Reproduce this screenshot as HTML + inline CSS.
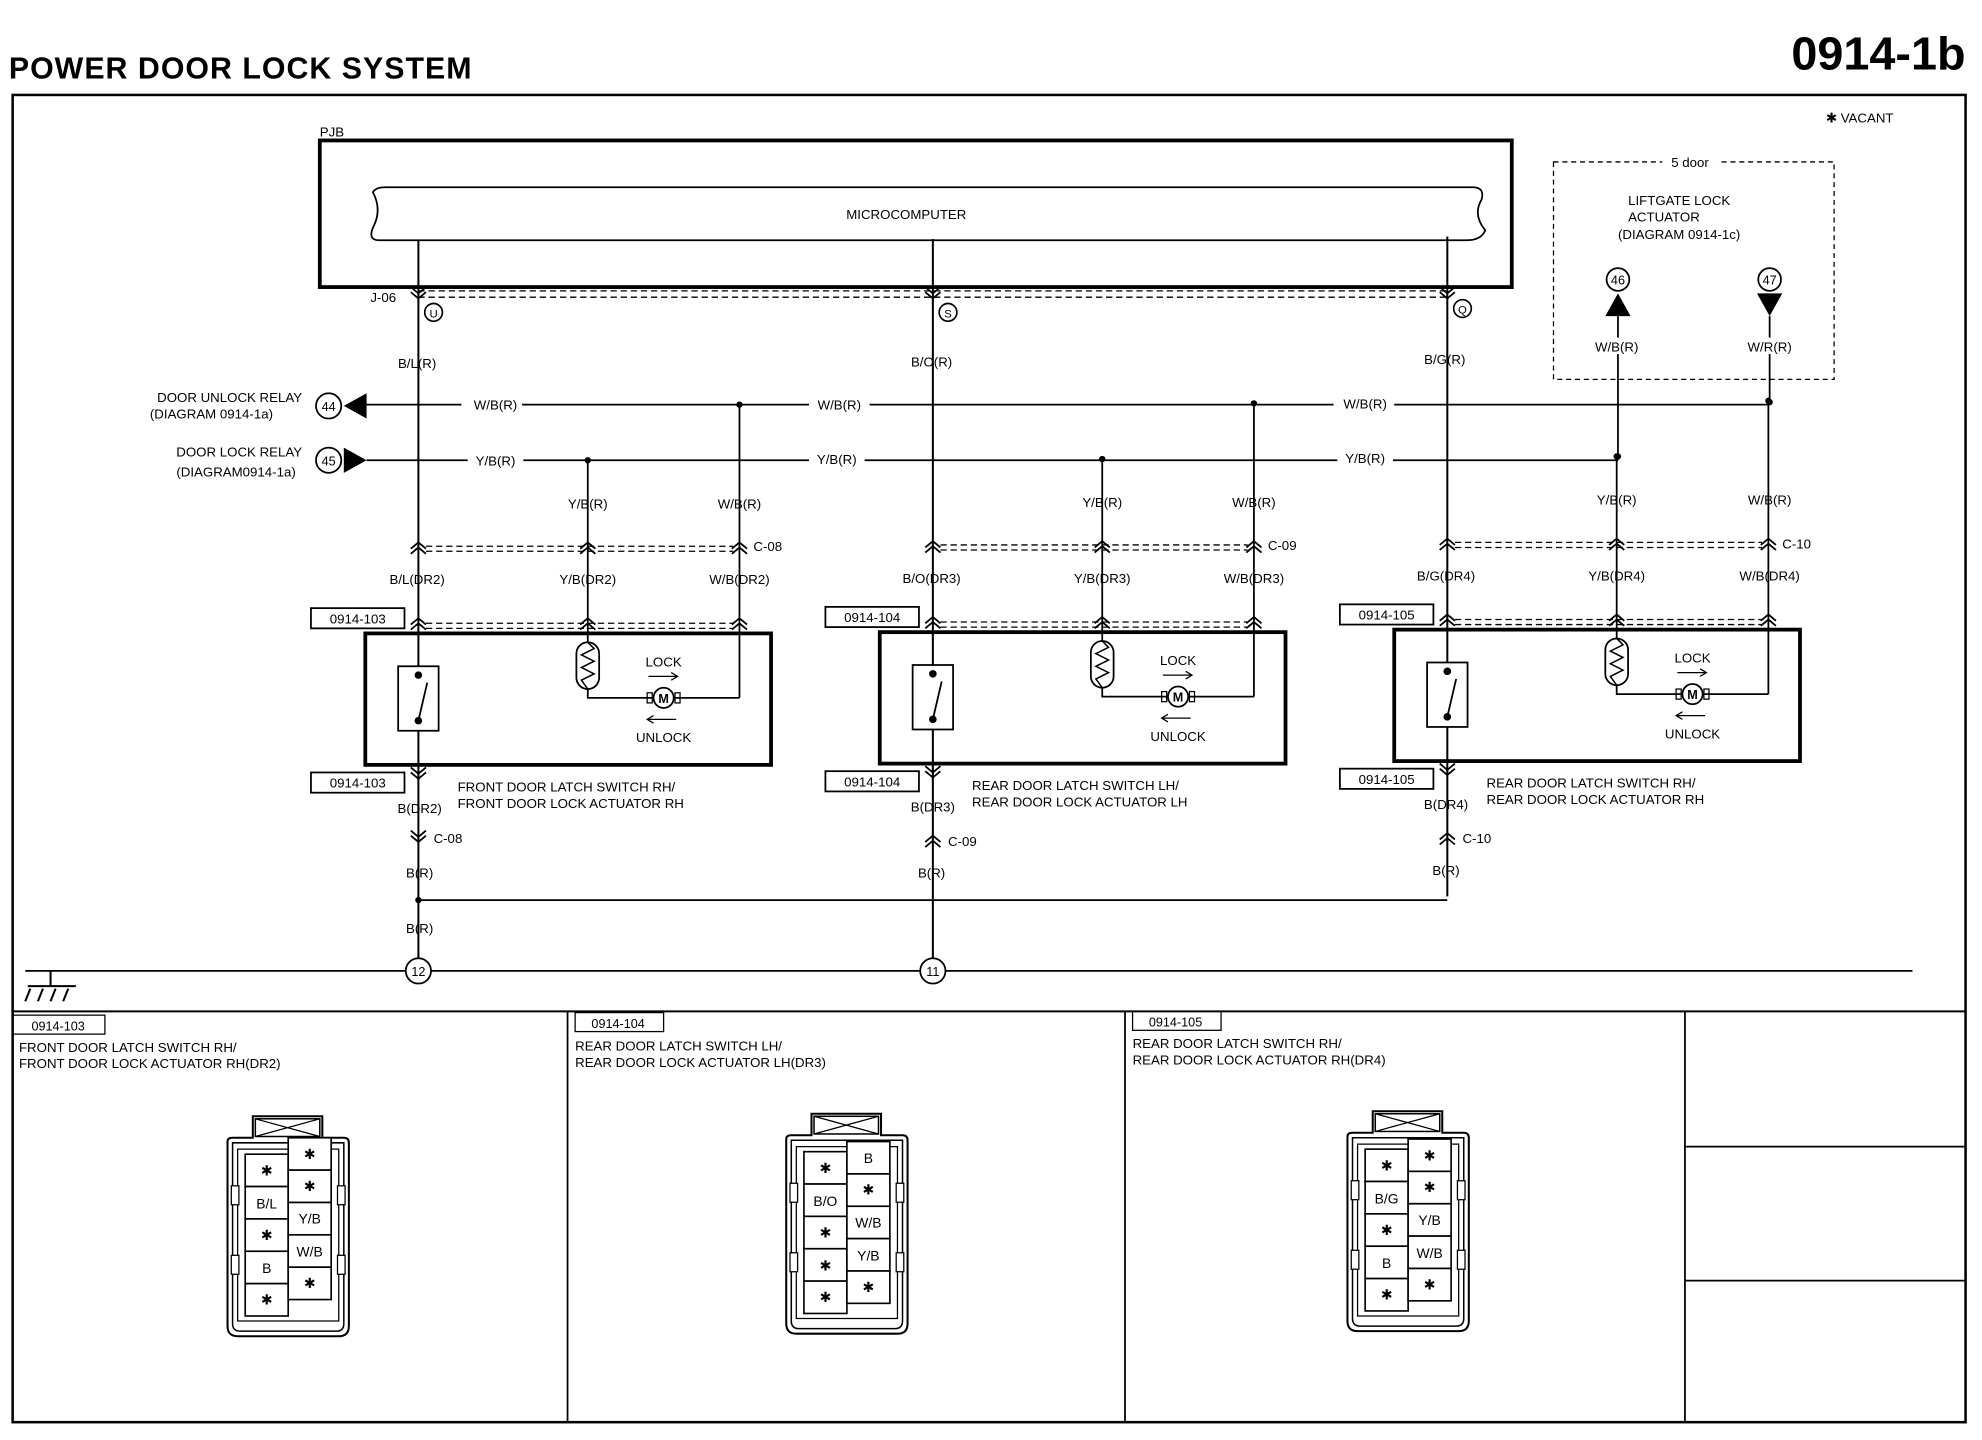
<!DOCTYPE html>
<html><head><meta charset="utf-8"><style>
html,body{margin:0;padding:0;background:#fff}
svg{display:block}
text{font-family:"Liberation Sans",sans-serif;fill:#000}
.l{font-size:10.5px}
.s{font-size:11px}
</style></head><body>
<svg width="1982" height="1440" viewBox="0 0 1568 1139" xmlns="http://www.w3.org/2000/svg">
<defs>
<g id="cu"><path d="M-6,2 L0,-3 L6,2 M-6,6 L0,1 L6,6" fill="none" stroke="#000" stroke-width="1.4"/></g>
<g id="cd"><path d="M-6,-2 L0,3 L6,-2 M-6,-6 L0,-1 L6,-6" fill="none" stroke="#000" stroke-width="1.4"/></g>
<g id="col">
 <line x1="331" y1="190" x2="331" y2="712" stroke="#000" stroke-width="1.6"/>
 <line x1="465" y1="364" x2="465" y2="510" stroke="#000" stroke-width="1.4"/>
 <line x1="585" y1="320" x2="585" y2="552" stroke="#000" stroke-width="1.4"/>
 <circle cx="585" cy="320" r="2.5"/><circle cx="465" cy="364" r="2.5"/>
 <path d="M337,432 H580 M337,436 H580" stroke="#000" stroke-dasharray="5,3" fill="none"/>
 <use href="#cu" x="331" y="432"/><use href="#cu" x="465" y="432"/><use href="#cu" x="585" y="432"/>
 <path d="M337,493 H580 M337,497 H580" stroke="#000" stroke-dasharray="5,3" fill="none"/>
 <use href="#cu" x="331" y="492"/><use href="#cu" x="465" y="492"/><use href="#cu" x="585" y="492"/>
 <rect x="289" y="501" width="321" height="104" fill="none" stroke="#000" stroke-width="3"/>
 <rect x="315" y="527" width="32" height="51" fill="#fff" stroke="#000" stroke-width="1.4"/>
 <circle cx="331" cy="534" r="3"/><circle cx="331" cy="570" r="3"/>
 <line x1="331" y1="570" x2="338" y2="540" stroke="#000" stroke-width="1.4"/>
 <rect x="456" y="508" width="18" height="37" rx="9" fill="#fff" stroke="#000" stroke-width="1.4"/>
 <path d="M465,508 L470,513 L460,518 L470,523 L460,528 L470,533 L460,538 L465,545" fill="none" stroke="#000" stroke-width="1.2"/>
 <path d="M465,545 V552 H517 M533,552 H585" fill="none" stroke="#000" stroke-width="1.4"/>
 <circle cx="525" cy="552" r="8" fill="#fff" stroke="#000" stroke-width="1.4"/>
 <rect x="512" y="548" width="4" height="8" fill="none" stroke="#000"/><rect x="534" y="548" width="4" height="8" fill="none" stroke="#000"/>
 <text x="525" y="556" font-size="10" text-anchor="middle" font-weight="bold">M</text>
 <text x="525" y="527" class="l" text-anchor="middle">LOCK</text>
 <path d="M513,535 H535 M531,532 L536,535 L531,538" fill="none" stroke="#000"/>
 <path d="M513,569 H535 M517,566 L512,569 L517,572" fill="none" stroke="#000"/>
 <text x="525" y="587" class="l" text-anchor="middle">UNLOCK</text>
 <use href="#cd" x="331" y="613"/>
 <rect x="246" y="481" width="74" height="16" fill="#fff" stroke="#000" stroke-width="1.4"/>
 <rect x="246" y="611" width="74" height="16" fill="#fff" stroke="#000" stroke-width="1.4"/>
</g>
<g id="conn">
 <path d="M0,30 Q0,27 4,27 H20 V10 H75 V27 H92 Q96,27 96,31 V176 Q96,184 88,184 H8 Q0,184 0,176 Z" fill="none" stroke="#000" stroke-width="1.6"/>
 <path d="M4,31 H92 V174 Q92,180 86,180 H10 Q4,180 4,174 Z" fill="none" stroke="#000" stroke-width="1.2"/>
 <rect x="22" y="12" width="51" height="14" fill="none" stroke="#000" stroke-width="1.2"/>
 <path d="M22,12 L73,26 M73,12 L22,26" stroke="#000"/>
 <path d="M8,36 H88 V172 H8 Z" fill="none" stroke="#000"/>
 <rect x="3" y="65" width="6" height="15" fill="#fff" stroke="#000"/><rect x="87" y="65" width="6" height="15" fill="#fff" stroke="#000"/>
 <rect x="3" y="120" width="6" height="15" fill="#fff" stroke="#000"/><rect x="87" y="120" width="6" height="15" fill="#fff" stroke="#000"/>
</g>
</defs>

<text x="7" y="62" font-size="24" font-weight="bold" letter-spacing="0.8">POWER DOOR LOCK SYSTEM</text>
<text x="1555" y="55" font-size="37" font-weight="bold" text-anchor="end">0914-1b</text>
<rect x="10" y="75" width="1545" height="1050" fill="none" stroke="#000" stroke-width="2"/>
<text x="1498" y="97" class="l" text-anchor="end">✱ VACANT</text>

<text x="253" y="108" class="l">PJB</text>
<rect x="253" y="111" width="943" height="116" fill="none" stroke="#000" stroke-width="3"/>
<path d="M305,148 H1165 Q1175,148 1172,158 Q1165,170 1175,182 Q1172,190 1160,190 H300 Q290,190 296,178 Q302,165 295,152 Q297,148 305,148 Z" fill="none" stroke="#000" stroke-width="1.4"/>
<text x="717" y="173" class="l" text-anchor="middle">MICROCOMPUTER</text>

<path d="M331,230 H1145 M331,235 H1145" stroke="#000" stroke-dasharray="5,3"/>
<use href="#cd" x="331" y="233"/><use href="#cd" x="738" y="233"/><use href="#cd" x="1145" y="233"/>
<text x="293" y="239" class="l">J-06</text>
<circle cx="343" cy="247" r="7" fill="#fff" stroke="#000" stroke-width="1.3"/><text x="343" y="251" font-size="9" text-anchor="middle">U</text>
<circle cx="750" cy="247" r="7" fill="#fff" stroke="#000" stroke-width="1.3"/><text x="750" y="251" font-size="9" text-anchor="middle">S</text>
<circle cx="1157" cy="244" r="7" fill="#fff" stroke="#000" stroke-width="1.3"/><text x="1157" y="248" font-size="9" text-anchor="middle">Q</text>

<line x1="290" y1="320" x2="1400" y2="320" stroke="#000" stroke-width="1.4"/>
<line x1="290" y1="364" x2="1280" y2="364" stroke="#000" stroke-width="1.4"/>
<rect x="365" y="313" width="48" height="14" fill="#fff"/><text x="392" y="324" class="l" text-anchor="middle">W/B(R)</text>
<rect x="640" y="313" width="48" height="14" fill="#fff"/><text x="664" y="324" class="l" text-anchor="middle">W/B(R)</text>
<rect x="1055" y="312" width="48" height="14" fill="#fff"/><text x="1080" y="323" class="l" text-anchor="middle">W/B(R)</text>
<rect x="370" y="357" width="44" height="14" fill="#fff"/><text x="392" y="368" class="l" text-anchor="middle">Y/B(R)</text>
<rect x="640" y="357" width="44" height="14" fill="#fff"/><text x="662" y="367" class="l" text-anchor="middle">Y/B(R)</text>
<rect x="1058" y="355" width="44" height="14" fill="#fff"/><text x="1080" y="366" class="l" text-anchor="middle">Y/B(R)</text>

<circle cx="260" cy="321" r="10" fill="#fff" stroke="#000" stroke-width="1.4"/><text x="260" y="325" font-size="10" text-anchor="middle">44</text>
<path d="M272,321 L290,311 V331 Z"/>
<circle cx="260" cy="364" r="10" fill="#fff" stroke="#000" stroke-width="1.4"/><text x="260" y="368" font-size="10" text-anchor="middle">45</text>
<path d="M290,364 L272,354 V374 Z"/>
<text x="239" y="318" class="l" text-anchor="end">DOOR UNLOCK RELAY</text>
<text x="216" y="331" class="l" text-anchor="end">(DIAGRAM 0914-1a)</text>
<text x="239" y="361" class="l" text-anchor="end">DOOR LOCK RELAY</text>
<text x="234" y="377" class="l" text-anchor="end">(DIAGRAM0914-1a)</text>

<use href="#col"/>
<use href="#col" transform="translate(407,-1)"/>
<use href="#col" transform="translate(814,-3)"/>

<line x1="331" y1="712" x2="331" y2="768" stroke="#000" stroke-width="1.6"/>
<line x1="738" y1="711" x2="738" y2="768" stroke="#000" stroke-width="1.6"/>
<line x1="331" y1="712" x2="1145" y2="712" stroke="#000" stroke-width="1.4"/>
<circle cx="331" cy="712" r="2.5"/>
<line x1="20" y1="768" x2="1513" y2="768" stroke="#000" stroke-width="1.4"/>
<circle cx="331" cy="768" r="10" fill="#fff" stroke="#000" stroke-width="1.4"/><text x="331" y="772" font-size="10" text-anchor="middle">12</text>
<circle cx="738" cy="768" r="10" fill="#fff" stroke="#000" stroke-width="1.4"/><text x="738" y="772" font-size="10" text-anchor="middle">11</text>
<path d="M40,768 V780 M22,780 H60 M24,782 L20,792 M34,782 L30,792 M44,782 L40,792 M54,782 L50,792" stroke="#000" stroke-width="1.6" fill="none"/>

<text x="330" y="291" class="l" text-anchor="middle">B/L(R)</text>
<text x="737" y="290" class="l" text-anchor="middle">B/O(R)</text>
<text x="1143" y="288" class="l" text-anchor="middle">B/G(R)</text>
<text x="465" y="402" class="l" text-anchor="middle">Y/B(R)</text>
<text x="585" y="402" class="l" text-anchor="middle">W/B(R)</text>
<text x="872" y="401" class="l" text-anchor="middle">Y/B(R)</text>
<text x="992" y="401" class="l" text-anchor="middle">W/B(R)</text>
<text x="1279" y="399" class="l" text-anchor="middle">Y/B(R)</text>
<text x="1400" y="399" class="l" text-anchor="middle">W/B(R)</text>
<text x="596" y="436" class="l">C-08</text><text x="1003" y="435" class="l">C-09</text><text x="1410" y="434" class="l">C-10</text>
<text x="330" y="462" class="l" text-anchor="middle">B/L(DR2)</text>
<text x="465" y="462" class="l" text-anchor="middle">Y/B(DR2)</text>
<text x="585" y="462" class="l" text-anchor="middle">W/B(DR2)</text>
<text x="737" y="461" class="l" text-anchor="middle">B/O(DR3)</text>
<text x="872" y="461" class="l" text-anchor="middle">Y/B(DR3)</text>
<text x="992" y="461" class="l" text-anchor="middle">W/B(DR3)</text>
<text x="1144" y="459" class="l" text-anchor="middle">B/G(DR4)</text>
<text x="1279" y="459" class="l" text-anchor="middle">Y/B(DR4)</text>
<text x="1400" y="459" class="l" text-anchor="middle">W/B(DR4)</text>
<text x="283" y="493" class="l" text-anchor="middle">0914-103</text>
<text x="283" y="623" class="l" text-anchor="middle">0914-103</text>
<text x="690" y="492" class="l" text-anchor="middle">0914-104</text>
<text x="690" y="622" class="l" text-anchor="middle">0914-104</text>
<text x="1097" y="490" class="l" text-anchor="middle">0914-105</text>
<text x="1097" y="620" class="l" text-anchor="middle">0914-105</text>
<text x="362" y="626" class="l">FRONT DOOR LATCH SWITCH RH/</text>
<text x="362" y="639" class="l">FRONT DOOR LOCK ACTUATOR RH</text>
<text x="769" y="625" class="l">REAR DOOR LATCH SWITCH LH/</text>
<text x="769" y="638" class="l">REAR DOOR LOCK ACTUATOR LH</text>
<text x="1176" y="623" class="l">REAR DOOR LATCH SWITCH RH/</text>
<text x="1176" y="636" class="l">REAR DOOR LOCK ACTUATOR RH</text>
<text x="332" y="643" class="l" text-anchor="middle">B(DR2)</text>
<text x="738" y="642" class="l" text-anchor="middle">B(DR3)</text>
<text x="1144" y="640" class="l" text-anchor="middle">B(DR4)</text>
<use href="#cd" x="331" y="663"/><use href="#cu" x="738" y="664"/><use href="#cu" x="1145" y="662"/>
<text x="343" y="667" class="l">C-08</text><text x="750" y="669" class="l">C-09</text><text x="1157" y="667" class="l">C-10</text>
<text x="332" y="694" class="l" text-anchor="middle">B(R)</text>
<text x="737" y="694" class="l" text-anchor="middle">B(R)</text>
<text x="1144" y="692" class="l" text-anchor="middle">B(R)</text>
<text x="332" y="738" class="l" text-anchor="middle">B(R)</text>

<rect x="1229" y="128" width="222" height="172" fill="none" stroke="#000" stroke-dasharray="4,3"/>
<rect x="1315" y="122" width="44" height="12" fill="#fff"/><text x="1337" y="132" class="l" text-anchor="middle">5 door</text>
<text x="1288" y="162" class="l">LIFTGATE LOCK</text>
<text x="1288" y="175" class="l">ACTUATOR</text>
<text x="1280" y="189" class="l">(DIAGRAM 0914-1c)</text>
<circle cx="1280" cy="221" r="9" fill="#fff" stroke="#000" stroke-width="1.4"/><text x="1280" y="225" font-size="10" text-anchor="middle">46</text>
<circle cx="1400" cy="221" r="9" fill="#fff" stroke="#000" stroke-width="1.4"/><text x="1400" y="225" font-size="10" text-anchor="middle">47</text>
<path d="M1280,232 L1270,250 H1290 Z"/><path d="M1400,250 L1390,232 H1410 Z"/>
<line x1="1280" y1="250" x2="1280" y2="364" stroke="#000" stroke-width="1.4"/>
<line x1="1400" y1="250" x2="1400" y2="320" stroke="#000" stroke-width="1.4"/>
<rect x="1256" y="267" width="48" height="13" fill="#fff"/><text x="1279" y="278" class="l" text-anchor="middle">W/B(R)</text>
<rect x="1376" y="267" width="48" height="13" fill="#fff"/><text x="1400" y="278" class="l" text-anchor="middle">W/R(R)</text>
<circle cx="1400" cy="318" r="2.5"/><circle cx="1280" cy="361" r="2.5"/>

<line x1="10" y1="800" x2="1555" y2="800" stroke="#000" stroke-width="1.6"/>
<line x1="449" y1="800" x2="449" y2="1125" stroke="#000" stroke-width="1.4"/>
<line x1="890" y1="800" x2="890" y2="1125" stroke="#000" stroke-width="1.4"/>
<line x1="1333" y1="800" x2="1333" y2="1125" stroke="#000" stroke-width="1.4"/>
<line x1="1333" y1="907" x2="1555" y2="907" stroke="#000" stroke-width="1.4"/>
<line x1="1333" y1="1013" x2="1555" y2="1013" stroke="#000" stroke-width="1.4"/>
<rect x="10" y="803" width="73" height="15" fill="none" stroke="#000"/><text x="46" y="815" font-size="10" text-anchor="middle">0914-103</text>
<rect x="455" y="801" width="70" height="15" fill="none" stroke="#000"/><text x="489" y="813" font-size="10" text-anchor="middle">0914-104</text>
<rect x="896" y="800" width="70" height="15" fill="none" stroke="#000"/><text x="930" y="812" font-size="10" text-anchor="middle">0914-105</text>
<text x="15" y="832" class="l">FRONT DOOR LATCH SWITCH RH/</text>
<text x="15" y="845" class="l">FRONT DOOR LOCK ACTUATOR RH(DR2)</text>
<text x="455" y="831" class="l">REAR DOOR LATCH SWITCH LH/</text>
<text x="455" y="844" class="l">REAR DOOR LOCK ACTUATOR LH(DR3)</text>
<text x="896" y="829" class="l">REAR DOOR LATCH SWITCH RH/</text>
<text x="896" y="842" class="l">REAR DOOR LOCK ACTUATOR RH(DR4)</text>

<g transform="translate(180,873)">
<use href="#conn"/>
<g fill="#fff" stroke="#000" stroke-width="1.3">
<rect x="14" y="40" width="34" height="25.6"/><rect x="14" y="65.6" width="34" height="25.6"/><rect x="14" y="91.2" width="34" height="25.6"/><rect x="14" y="116.8" width="34" height="25.6"/><rect x="14" y="142.4" width="34" height="25.6"/>
<rect x="48" y="27" width="34" height="25.6"/><rect x="48" y="52.6" width="34" height="25.6"/><rect x="48" y="78.2" width="34" height="25.6"/><rect x="48" y="103.8" width="34" height="25.6"/><rect x="48" y="129.4" width="34" height="25.6"/>
</g>
<g font-size="11" text-anchor="middle">
<text x="31" y="57">✱</text><text x="31" y="83">B/L</text><text x="31" y="108">✱</text><text x="31" y="134">B</text><text x="31" y="159">✱</text>
<text x="65" y="44">✱</text><text x="65" y="69">✱</text><text x="65" y="95">Y/B</text><text x="65" y="121">W/B</text><text x="65" y="146">✱</text>
</g></g>

<g transform="translate(622,871)">
<use href="#conn"/>
<g fill="#fff" stroke="#000" stroke-width="1.3">
<rect x="14" y="40" width="34" height="25.6"/><rect x="14" y="65.6" width="34" height="25.6"/><rect x="14" y="91.2" width="34" height="25.6"/><rect x="14" y="116.8" width="34" height="25.6"/><rect x="14" y="142.4" width="34" height="25.6"/>
<rect x="48" y="32" width="34" height="25.6"/><rect x="48" y="57.6" width="34" height="25.6"/><rect x="48" y="83.2" width="34" height="25.6"/><rect x="48" y="108.8" width="34" height="25.6"/><rect x="48" y="134.4" width="34" height="25.6"/>
</g>
<g font-size="11" text-anchor="middle">
<text x="31" y="57">✱</text><text x="31" y="83">B/O</text><text x="31" y="108">✱</text><text x="31" y="134">✱</text><text x="31" y="159">✱</text>
<text x="65" y="49">B</text><text x="65" y="74">✱</text><text x="65" y="100">W/B</text><text x="65" y="126">Y/B</text><text x="65" y="151">✱</text>
</g></g>

<g transform="translate(1066,869)">
<use href="#conn"/>
<g fill="#fff" stroke="#000" stroke-width="1.3">
<rect x="14" y="40" width="34" height="25.6"/><rect x="14" y="65.6" width="34" height="25.6"/><rect x="14" y="91.2" width="34" height="25.6"/><rect x="14" y="116.8" width="34" height="25.6"/><rect x="14" y="142.4" width="34" height="25.6"/>
<rect x="48" y="32" width="34" height="25.6"/><rect x="48" y="57.6" width="34" height="25.6"/><rect x="48" y="83.2" width="34" height="25.6"/><rect x="48" y="108.8" width="34" height="25.6"/><rect x="48" y="134.4" width="34" height="25.6"/>
</g>
<g font-size="11" text-anchor="middle">
<text x="31" y="57">✱</text><text x="31" y="83">B/G</text><text x="31" y="108">✱</text><text x="31" y="134">B</text><text x="31" y="159">✱</text>
<text x="65" y="49">✱</text><text x="65" y="74">✱</text><text x="65" y="100">Y/B</text><text x="65" y="126">W/B</text><text x="65" y="151">✱</text>
</g></g>
</svg>
</body></html>
